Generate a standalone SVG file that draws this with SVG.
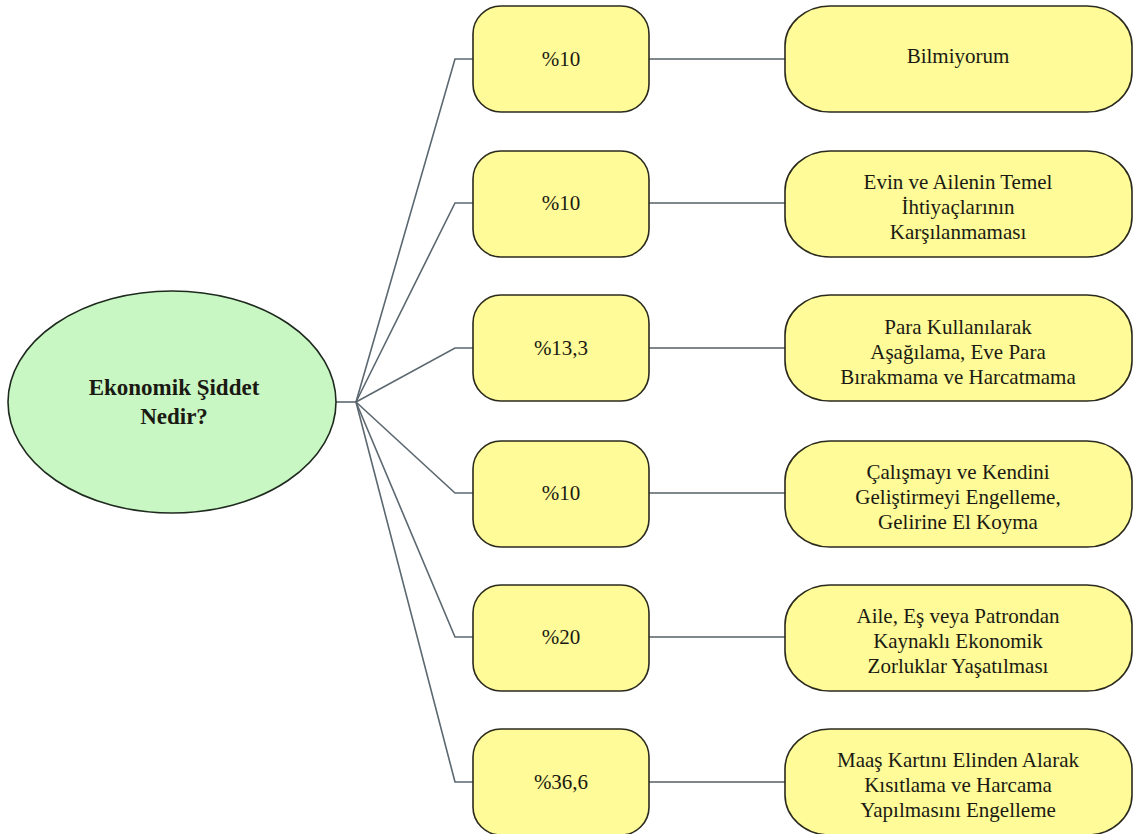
<svg xmlns="http://www.w3.org/2000/svg" width="1143" height="834" viewBox="0 0 1143 834">
<style>
.bg{fill:#ffffff}
.pct{fill:#fefb98;stroke:#2b2a1e;stroke-width:1.6}
.desc{fill:#fefb98;stroke:#2b2a1e;stroke-width:1.6}
.root{fill:#c8f7c4;stroke:#1f2a1f;stroke-width:1.6}
.fan{fill:none;stroke:#5c6870;stroke-width:1.6}
.link{fill:none;stroke:#80878b;stroke-width:2}
.t{font-family:"Liberation Serif",Tinos,"Times New Roman",Times,"DejaVu Serif",serif;font-size:21px;fill:#1a1a12;text-anchor:middle}
.tb{font-family:"Liberation Serif",Tinos,"Times New Roman",Times,"DejaVu Serif",serif;font-size:23px;font-weight:bold;fill:#1a1a12;text-anchor:middle}
</style>
<rect class="bg" x="0" y="0" width="1143" height="834"/>
<g id="connectors">
  <path class="fan" d="M335,402 H356"/>
  <path class="fan" d="M356,402 L455,59 H473"/>
  <path class="fan" d="M356,402 L455,203 H473"/>
  <path class="fan" d="M356,402 L455,348 H473"/>
  <path class="fan" d="M356,402 L455,493 H473"/>
  <path class="fan" d="M356,402 L455,637 H473"/>
  <path class="fan" d="M356,402 L455,782 H473"/>
  <path class="link" d="M649,59 H785"/>
  <path class="link" d="M649,203 H785"/>
  <path class="link" d="M649,348 H785"/>
  <path class="link" d="M649,493 H785"/>
  <path class="link" d="M649,637 H785"/>
  <path class="link" d="M649,782 H785"/>
</g>
<g id="root">
  <ellipse class="root" cx="172" cy="402" rx="164" ry="111"/>
  <text class="tb" x="174" y="395">Ekonomik Şiddet</text>
  <text class="tb" x="174" y="424">Nedir?</text>
</g>
<g id="p1"><rect class="pct" x="473" y="6" width="176" height="106" rx="28" ry="28"/><text class="t" x="561" y="66">%10</text></g>
<g id="p2"><rect class="pct" x="473" y="151" width="176" height="106" rx="28" ry="28"/><text class="t" x="561" y="210">%10</text></g>
<g id="p3"><rect class="pct" x="473" y="295" width="176" height="106" rx="28" ry="28"/><text class="t" x="561" y="355">%13,3</text></g>
<g id="p4"><rect class="pct" x="473" y="441" width="176" height="106" rx="28" ry="28"/><text class="t" x="561" y="500">%10</text></g>
<g id="p5"><rect class="pct" x="473" y="585" width="176" height="106" rx="28" ry="28"/><text class="t" x="561" y="644">%20</text></g>
<g id="p6"><rect class="pct" x="473" y="729" width="176" height="106" rx="28" ry="28"/><text class="t" x="561" y="789">%36,6</text></g>
<g id="d1"><rect class="desc" x="785" y="6" width="347" height="106" rx="45" ry="40"/><text class="t" x="958" y="63">Bilmiyorum</text></g>
<g id="d2"><rect class="desc" x="785" y="151" width="347" height="106" rx="45" ry="40"/>
  <text class="t" x="958" y="189">Evin ve Ailenin Temel</text>
  <text class="t" x="958" y="214">İhtiyaçlarının</text>
  <text class="t" x="958" y="239">Karşılanmaması</text></g>
<g id="d3"><rect class="desc" x="785" y="295" width="347" height="106" rx="45" ry="40"/>
  <text class="t" x="958" y="334">Para Kullanılarak</text>
  <text class="t" x="958" y="359">Aşağılama, Eve Para</text>
  <text class="t" x="958" y="384">Bırakmama ve Harcatmama</text></g>
<g id="d4"><rect class="desc" x="785" y="441" width="347" height="106" rx="45" ry="40"/>
  <text class="t" x="958" y="479">Çalışmayı ve Kendini</text>
  <text class="t" x="958" y="504">Geliştirmeyi Engelleme,</text>
  <text class="t" x="958" y="529">Gelirine El Koyma</text></g>
<g id="d5"><rect class="desc" x="785" y="585" width="347" height="106" rx="45" ry="40"/>
  <text class="t" x="958" y="623">Aile, Eş veya Patrondan</text>
  <text class="t" x="958" y="648">Kaynaklı Ekonomik</text>
  <text class="t" x="958" y="673">Zorluklar Yaşatılması</text></g>
<g id="d6"><rect class="desc" x="785" y="729" width="347" height="106" rx="45" ry="40"/>
  <text class="t" x="958" y="767">Maaş Kartını Elinden Alarak</text>
  <text class="t" x="958" y="792">Kısıtlama ve Harcama</text>
  <text class="t" x="958" y="817">Yapılmasını Engelleme</text></g>
</svg>
